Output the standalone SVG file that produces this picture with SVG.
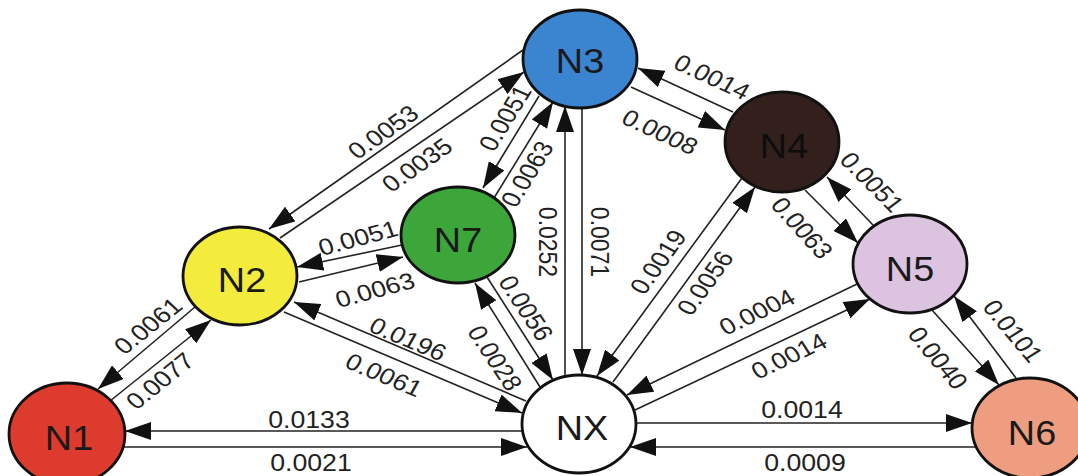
<svg xmlns="http://www.w3.org/2000/svg" width="1078" height="476" viewBox="0 0 1078 476">
  <defs>
    <marker id="arrow" markerUnits="userSpaceOnUse" markerWidth="26" markerHeight="18" refX="26" refY="9" orient="auto">
      <path d="M0,0 L26,9 L0,18 z" fill="#111"/>
    </marker>
    <style>
      .edge { stroke: #222; stroke-width: 1.6; fill: none; marker-end: url(#arrow); }
      .node { stroke: #111; stroke-width: 2.8; }
      .nlabel { font-family: "Liberation Sans", Arial, sans-serif; font-size: 35px; fill: #1a1a1a; text-anchor: middle; }
      .elabel { font-family: "Liberation Sans", Arial, sans-serif; font-size: 23px; fill: #222; text-anchor: middle; }
    </style>
  </defs>
  <rect width="1078" height="476" fill="#ffffff"/>

  <!-- connectors: each pair of nodes is joined by two parallel directed lines -->
  <g id="connectors">
    <line class="edge" x1="195" y1="307" x2="98" y2="389"/>
    <line class="edge" x1="110" y1="401" x2="211" y2="320"/>
    <line class="edge" x1="522" y1="431" x2="125" y2="431"/>
    <line class="edge" x1="123" y1="447" x2="527" y2="447"/>
    <line class="edge" x1="523" y1="50" x2="269" y2="229"/>
    <line class="edge" x1="280" y1="238" x2="524" y2="72"/>
    <line class="edge" x1="402" y1="245" x2="297" y2="267"/>
    <line class="edge" x1="299" y1="282" x2="403" y2="257"/>
    <line class="edge" x1="526" y1="401" x2="294" y2="302"/>
    <line class="edge" x1="284" y1="312" x2="522" y2="413"/>
    <line class="edge" x1="539" y1="96" x2="483" y2="188"/>
    <line class="edge" x1="494" y1="198" x2="553" y2="102"/>
    <line class="edge" x1="565" y1="376" x2="565" y2="106"/>
    <line class="edge" x1="582" y1="108" x2="582" y2="375"/>
    <line class="edge" x1="733" y1="112" x2="638" y2="68"/>
    <line class="edge" x1="631" y1="87" x2="725" y2="130"/>
    <line class="edge" x1="805" y1="190" x2="858" y2="243"/>
    <line class="edge" x1="873" y1="225" x2="827" y2="177"/>
    <line class="edge" x1="742" y1="178" x2="597" y2="376"/>
    <line class="edge" x1="613" y1="382" x2="755" y2="187"/>
    <line class="edge" x1="857" y1="284" x2="627" y2="395"/>
    <line class="edge" x1="635" y1="410" x2="870" y2="299"/>
    <line class="edge" x1="932" y1="310" x2="999" y2="385"/>
    <line class="edge" x1="1016" y1="378" x2="954" y2="296"/>
    <line class="edge" x1="636" y1="423" x2="972" y2="423"/>
    <line class="edge" x1="976" y1="447" x2="630" y2="447"/>
    <line class="edge" x1="540" y1="387" x2="475" y2="283"/>
    <line class="edge" x1="487" y1="277" x2="553" y2="380"/>

    <!-- transition values -->
    <text class="elabel" transform="translate(148,326) scale(1.16,1) rotate(-43)" y="8">0.0061</text>
    <text class="elabel" transform="translate(160,381) scale(1.16,1) rotate(-43)" y="8">0.0077</text>
    <text class="elabel" transform="translate(309,420) scale(1.16,1)" y="8">0.0133</text>
    <text class="elabel" transform="translate(311,463) scale(1.16,1)" y="8">0.0021</text>
    <text class="elabel" transform="translate(383,132) scale(1.16,1) rotate(-39)" y="8">0.0053</text>
    <text class="elabel" transform="translate(417,165) scale(1.16,1) rotate(-39)" y="8">0.0035</text>
    <text class="elabel" transform="translate(358,238) scale(1.16,1) rotate(-17)" y="8">0.0051</text>
    <text class="elabel" transform="translate(375,290) scale(1.16,1) rotate(-17)" y="8">0.0063</text>
    <text class="elabel" transform="translate(408,339) scale(1.16,1) rotate(26)" y="8">0.0196</text>
    <text class="elabel" transform="translate(384,375) scale(1.16,1) rotate(26)" y="8">0.0061</text>
    <text class="elabel" transform="translate(505,118) scale(1.16,1) rotate(-62)" y="8">0.0051</text>
    <text class="elabel" transform="translate(527,174) scale(1.16,1) rotate(-62)" y="8">0.0063</text>
    <text class="elabel" transform="translate(548,242) scale(1.16,1) rotate(90)" y="8">0.0252</text>
    <text class="elabel" transform="translate(600,242) scale(1.16,1) rotate(90)" y="8">0.0071</text>
    <text class="elabel" transform="translate(712,77) scale(1.16,1) rotate(28)" y="8">0.0014</text>
    <text class="elabel" transform="translate(660,132) scale(1.16,1) rotate(28)" y="8">0.0008</text>
    <text class="elabel" transform="translate(872,182) scale(1.16,1) rotate(49)" y="8">0.0051</text>
    <text class="elabel" transform="translate(802,228) scale(1.16,1) rotate(52)" y="8">0.0063</text>
    <text class="elabel" transform="translate(658,262) scale(1.16,1) rotate(-58)" y="8">0.0019</text>
    <text class="elabel" transform="translate(705,283) scale(1.16,1) rotate(-58)" y="8">0.0056</text>
    <text class="elabel" transform="translate(757,312) scale(1.16,1) rotate(-29)" y="8">0.0004</text>
    <text class="elabel" transform="translate(789,356) scale(1.16,1) rotate(-29)" y="8">0.0014</text>
    <text class="elabel" transform="translate(938,358) scale(1.16,1) rotate(54)" y="8">0.0040</text>
    <text class="elabel" transform="translate(1013,331) scale(1.16,1) rotate(54)" y="8">0.0101</text>
    <text class="elabel" transform="translate(802,410) scale(1.16,1)" y="8">0.0014</text>
    <text class="elabel" transform="translate(805,463) scale(1.16,1)" y="8">0.0009</text>
    <text class="elabel" transform="translate(495,358) scale(1.16,1) rotate(60)" y="8">0.0028</text>
    <text class="elabel" transform="translate(526,308) scale(1.16,1) rotate(60)" y="8">0.0056</text>
  </g>

  <!-- nodes -->
  <g id="N1">
    <ellipse class="node" cx="67" cy="434" rx="58" ry="51" fill="#de3b2f"/>
    <text class="nlabel" transform="translate(69,437) scale(1.08,1)" y="12.5">N1</text>
  </g>
  <g id="N2">
    <ellipse class="node" cx="240" cy="276" rx="57" ry="49" fill="#f3ec3c"/>
    <text class="nlabel" transform="translate(242,279) scale(1.08,1)" y="12.5">N2</text>
  </g>
  <g id="N3">
    <ellipse class="node" cx="580" cy="59" rx="57" ry="49" fill="#3b84cf"/>
    <text class="nlabel" transform="translate(580,60) scale(1.08,1)" y="12.5">N3</text>
  </g>
  <g id="N4">
    <ellipse class="node" cx="782" cy="142" rx="57" ry="50" fill="#33201d"/>
    <text class="nlabel" transform="translate(784,145) scale(1.08,1)" y="12.5" style="fill:#0d0d0d">N4</text>
  </g>
  <g id="N5">
    <ellipse class="node" cx="910" cy="264" rx="57" ry="49" fill="#dcc4e0"/>
    <text class="nlabel" transform="translate(910,268) scale(1.08,1)" y="12.5">N5</text>
  </g>
  <g id="N6">
    <ellipse class="node" cx="1030" cy="428" rx="58" ry="50" fill="#ef9d80"/>
    <text class="nlabel" transform="translate(1032,432) scale(1.08,1)" y="12.5">N6</text>
  </g>
  <g id="N7">
    <ellipse class="node" cx="458" cy="235" rx="57" ry="48" fill="#3da63b"/>
    <text class="nlabel" transform="translate(458,239) scale(1.08,1)" y="12.5">N7</text>
  </g>
  <g id="NX">
    <ellipse class="node" cx="579" cy="424" rx="57" ry="49" fill="#ffffff"/>
    <text class="nlabel" transform="translate(582,427) scale(1.08,1)" y="12.5">NX</text>
  </g>
</svg>
